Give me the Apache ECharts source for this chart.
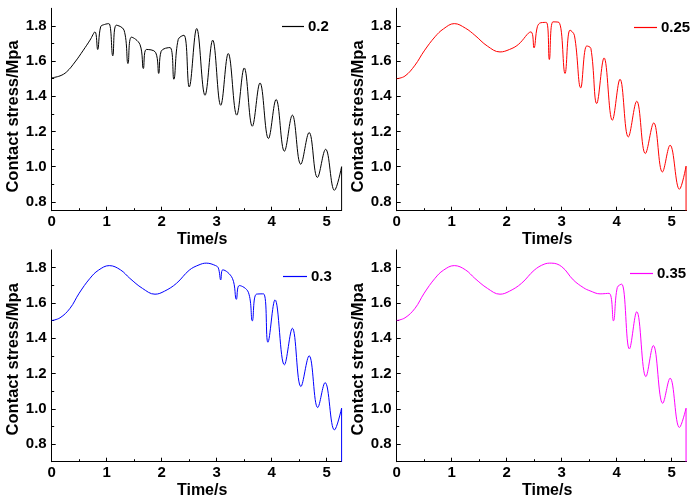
<!DOCTYPE html>
<html><head><meta charset="utf-8">
<script src="https://cdn.jsdelivr.net/npm/echarts@6/dist/echarts.min.js"></script>
<style>html,body{margin:0;padding:0;background:#fff}#c{width:690px;height:502px}</style>
</head><body><div id="c"></div>
<script>
// ---- data ----
const xTicks = [0, 1, 2, 3, 4, 5];
const xMinorTicks = [0.5, 1.5, 2.5, 3.5, 4.5];
const yTicks = [0.8, 1.0, 1.2, 1.4, 1.6, 1.8];
const yMinorTicks = [0.9, 1.1, 1.3, 1.5, 1.7];
const seriesNames = ['0.2', '0.25', '0.3', '0.35'];

const t02 = [0, 0.151, 0.272, 0.424, 0.575, 0.696, 0.787, 0.836, 0.89, 0.96, 1.04, 1.11, 1.175, 1.315, 1.387, 1.45, 1.605, 1.666, 1.72, 1.89, 1.945, 1.99, 2.15, 2.22, 2.30, 2.405, 2.50, 2.636, 2.787, 2.927, 3.073, 3.21, 3.364, 3.50, 3.647, 3.787, 3.94, 4.08, 4.23, 4.375, 4.527, 4.68, 4.83, 4.98, 5.14, 5.27];
const v02 = [1.505, 1.516, 1.539, 1.595, 1.662, 1.719, 1.766, 1.666, 1.795, 1.808, 1.813, 1.63, 1.804, 1.776, 1.586, 1.736, 1.694, 1.558, 1.666, 1.649, 1.53, 1.656, 1.677, 1.497, 1.723, 1.747, 1.453, 1.785, 1.406, 1.719, 1.349, 1.643, 1.293, 1.561, 1.23, 1.476, 1.16, 1.382, 1.088, 1.293, 1.014, 1.194, 0.939, 1.099, 0.866, 1.0];

const t025 = [0, 0.15, 0.333, 0.5, 0.696, 0.85, 1.047, 1.25, 1.42, 1.65, 1.878, 2.05, 2.21, 2.44, 2.496, 2.557, 2.62, 2.72, 2.775, 2.84, 2.95, 3.06, 3.15, 3.23, 3.345, 3.455, 3.53, 3.636, 3.77, 3.92, 4.06, 4.21, 4.364, 4.52, 4.673, 4.83, 4.97, 5.14, 5.26];
const v025 = [1.5, 1.515, 1.577, 1.658, 1.738, 1.783, 1.813, 1.787, 1.747, 1.685, 1.652, 1.666, 1.694, 1.766, 1.675, 1.795, 1.818, 1.82, 1.609, 1.823, 1.82, 1.53, 1.776, 1.747, 1.448, 1.686, 1.672, 1.359, 1.618, 1.264, 1.497, 1.169, 1.372, 1.075, 1.249, 0.97, 1.122, 0.872, 1.003];

const t03 = [0, 0.15, 0.333, 0.5, 0.696, 0.85, 1.047, 1.25, 1.42, 1.65, 1.878, 2.05, 2.27, 2.5, 2.678, 2.81, 2.98, 3.03, 3.073, 3.11, 3.285, 3.357, 3.41, 3.575, 3.647, 3.72, 3.85, 3.93, 4.06, 4.23, 4.375, 4.53, 4.68, 4.836, 4.97, 5.14, 5.27];
const v03 = [1.5, 1.515, 1.569, 1.655, 1.739, 1.785, 1.811, 1.787, 1.739, 1.682, 1.649, 1.666, 1.711, 1.785, 1.815, 1.825, 1.811, 1.797, 1.73, 1.787, 1.739, 1.62, 1.698, 1.66, 1.498, 1.649, 1.651, 1.377, 1.617, 1.249, 1.456, 1.126, 1.30, 1.007, 1.148, 0.88, 1.003];

const t035 = [0, 0.15, 0.333, 0.5, 0.696, 0.85, 1.047, 1.25, 1.42, 1.65, 1.878, 2.05, 2.27, 2.5, 2.68, 2.81, 3.0, 3.21, 3.4, 3.515, 3.697, 3.86, 3.94, 4.01, 4.09, 4.23, 4.364, 4.53, 4.665, 4.836, 4.97, 5.14, 5.26];
const v035 = [1.5, 1.515, 1.569, 1.655, 1.739, 1.785, 1.811, 1.787, 1.739, 1.682, 1.649, 1.666, 1.711, 1.785, 1.819, 1.825, 1.805, 1.73, 1.685, 1.668, 1.651, 1.654, 1.498, 1.687, 1.706, 1.339, 1.55, 1.182, 1.358, 1.031, 1.173, 0.894, 1.003];

const xMax = [5.27, 5.27, 5.27, 5.27];
const yMin = [0.75, 0.75, 0.7, 0.7];
const yMax = [1.9, 1.9, 1.9, 1.9];

// ---- styling / layout ----
const colors = ['#000000', '#ff0000', '#0000ff', '#ff00ff'];
const FONT = "'Liberation Sans', Arial, sans-serif";
const grids = [
  {left: 51.7, top: 8.3, width: 289.9, height: 202.4},
  {left: 396.7, top: 8.3, width: 289.9, height: 202.4},
  {left: 51.7, top: 249.9, width: 289.9, height: 211.8},
  {left: 396.7, top: 249.9, width: 289.9, height: 211.8}
];
const legendPos = [
  {left: 282, top: 19, w: 22},
  {left: 634, top: 20, w: 23},
  {left: 283, top: 269, w: 24},
  {left: 630, top: 266, w: 23}
];
const allT = [t02, t025, t03, t035];
const allV = [v02, v025, v03, v035];

const xAxes = [], yAxes = [], series = [], legends = [];
for (let i = 0; i < 4; i++) {
  xAxes.push({
    type: 'value', gridIndex: i, min: 0, max: xMax[i], position: 'bottom',
    name: 'Time/s', nameLocation: 'middle', nameGap: 21,
    nameTextStyle: {fontFamily: FONT, fontWeight: 'bold', fontSize: 16, color: '#000', padding: [0, 0, 0, 11]},
    axisLine: {show: true, lineStyle: {color: '#000', width: 1}},
    axisTick: {show: true, inside: true, length: 4, customValues: xTicks, lineStyle: {color: '#000'}},
    axisLabel: {show: true, customValues: xTicks, margin: 4, fontFamily: FONT, fontWeight: 'bold', fontSize: 15, color: '#000'},
    splitLine: {show: false}
  });
  xAxes.push({
    type: 'value', gridIndex: i, min: 0, max: xMax[i], position: 'bottom', offset: 0,
    axisLine: {show: false},
    axisTick: {show: true, inside: true, length: 2.5, customValues: xMinorTicks, lineStyle: {color: '#000'}},
    axisLabel: {show: false}, splitLine: {show: false}
  });
  yAxes.push({
    type: 'value', gridIndex: i, min: yMin[i], max: yMax[i], position: 'left',
    name: 'Contact stress/Mpa', nameLocation: 'middle', nameGap: 28, nameRotate: 90,
    nameTextStyle: {fontFamily: FONT, fontWeight: 'bold', fontSize: 16.5, color: '#000', padding: i < 2 ? [0, 14, 0, 0] : [0, 7, 0, 0]},
    axisLine: {show: true, lineStyle: {color: '#000', width: 1}},
    axisTick: {show: true, inside: true, length: 4, customValues: yTicks, lineStyle: {color: '#000'}},
    axisLabel: {show: true, customValues: yTicks, margin: 5, fontFamily: FONT, fontWeight: 'bold', fontSize: 15, color: '#000',
      formatter: v => v.toFixed(1)},
    splitLine: {show: false}
  });
  yAxes.push({
    type: 'value', gridIndex: i, min: yMin[i], max: yMax[i], position: 'left', offset: 0,
    axisLine: {show: false},
    axisTick: {show: true, inside: true, length: 2.5, customValues: yMinorTicks, lineStyle: {color: '#000'}},
    axisLabel: {show: false}, splitLine: {show: false}
  });
  const data = allT[i].map((t, k) => [t, allV[i][k]]);
  series.push({
    type: 'line', name: seriesNames[i], xAxisIndex: 2 * i, yAxisIndex: 2 * i,
    data: data, smooth: 0.4, symbol: 'none', color: colors[i],
    lineStyle: {color: colors[i], width: 1}, animation: false
  });
  const last = data[data.length - 1];
  series.push({
    type: 'line', name: seriesNames[i], xAxisIndex: 2 * i, yAxisIndex: 2 * i,
    data: [[last[0], last[1]], [last[0], yMin[i]]], smooth: false, symbol: 'none', color: colors[i],
    lineStyle: {color: colors[i], width: 1}, animation: false
  });
  legends.push({
    data: [{name: seriesNames[i], icon: 'rect', itemStyle: {color: colors[i]}}],
    left: legendPos[i].left, top: legendPos[i].top, padding: 0,
    itemWidth: legendPos[i].w, itemHeight: 1.2, selectedMode: false,
    textStyle: {fontFamily: FONT, fontWeight: 'bold', fontSize: 15, color: '#000', padding: [0, 0, 0, -1]}
  });
}

const chart = echarts.init(document.getElementById('c'), null, {renderer: 'canvas'});
chart.setOption({
  backgroundColor: '#fff',
  animation: false,
  grid: grids,
  xAxis: xAxes,
  yAxis: yAxes,
  legend: legends,
  series: series
});
</script>
</body></html>
